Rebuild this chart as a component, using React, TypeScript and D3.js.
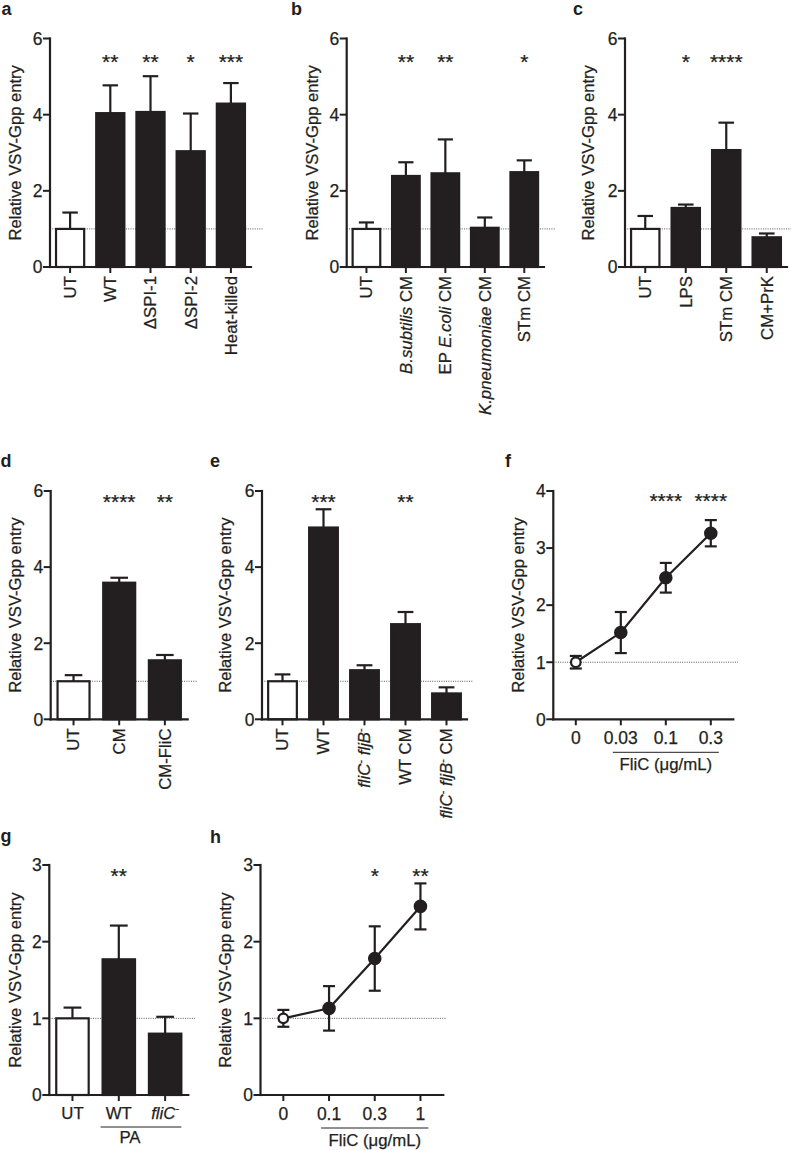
import React from 'react';
import * as d3 from 'd3';

const FONT = "'Liberation Sans', Arial, Helvetica, sans-serif";
const INK = '#231f20';
const Y_TITLE = 'Relative VSV-Gpp entry';

// ---------- data ----------
// panel a
const aCategories = ['UT', 'WT', 'ΔSPI-1', 'ΔSPI-2', 'Heat-killed'];
const aValues = [1.0, 4.04, 4.07, 3.04, 4.29];
const aErrors = [0.43, 0.73, 0.94, 0.99, 0.54];
const aStars = ['', '**', '**', '*', '***'];
// panel b
const bCategories = ['UT', '_B.subtilis_ CM', 'EP _E.coli_ CM', '_K.pneumoniae_ CM', 'STm CM'];
const bValues = [1.0, 2.39, 2.46, 1.03, 2.49];
const bErrors = [0.17, 0.36, 0.89, 0.27, 0.31];
const bStars = ['', '**', '**', '', '*'];
// panel c
const cCategories = ['UT', 'LPS', 'STm CM', 'CM+PrK'];
const cValues = [1.0, 1.55, 3.07, 0.78];
const cErrors = [0.34, 0.09, 0.72, 0.1];
const cStars = ['', '*', '****', ''];
// panel d
const dCategories = ['UT', 'CM', 'CM-FliC'];
const dValues = [1.0, 3.59, 1.55];
const dErrors = [0.16, 0.13, 0.14];
const dStars = ['', '****', '**'];
// panel e
const eCategories = ['UT', 'WT', '_fliC_^ _fljB_^', 'WT CM', '_fliC_^ _fljB_^ CM'];
const eValues = [1.0, 5.04, 1.29, 2.5, 0.68];
const eErrors = [0.18, 0.48, 0.13, 0.32, 0.16];
const eStars = ['', '***', '', '**', ''];
// panel f
const fDoses = ['0', '0.03', '0.1', '0.3'];
const fMeans = [1.0, 1.52, 2.48, 3.26];
const fErrors = [0.11, 0.36, 0.26, 0.23];
const fStars = ['', '', '****', '****'];
// panel g
const gCategories = ['UT', 'WT', '_fliC_^'];
const gValues = [1.0, 1.77, 0.8];
const gErrors = [0.14, 0.44, 0.22];
const gStars = ['', '**', ''];
// panel h
const hDoses = ['0', '0.1', '0.3', '1'];
const hMeans = [1.0, 1.13, 1.78, 2.46];
const hErrors = [0.11, 0.29, 0.42, 0.3];
const hStars = ['', '', '*', '**'];

const ticks6 = [0, 2, 4, 6];
const ticks4 = [0, 1, 2, 3, 4];
const ticks3 = [0, 1, 2, 3];

// ---------- label markup ----------
type Seg = { t: string; i?: boolean; sup?: boolean };
function parseLabel(s: string): Seg[] {
  const segs: Seg[] = [];
  let italic = false;
  let buf = '';
  for (const ch of s) {
    if (ch === '_') {
      if (buf) segs.push({ t: buf, i: italic });
      buf = '';
      italic = !italic;
    } else if (ch === '^') {
      if (buf) segs.push({ t: buf, i: italic });
      buf = '';
      segs.push({ t: '-', sup: true });
    } else buf += ch;
  }
  if (buf) segs.push({ t: buf, i: italic });
  return segs;
}

function Label({ text, fs }: { text: string; fs: number }) {
  const segs = parseLabel(text);
  let raised = false;
  return (
    <>
      {segs.map((s, k) => {
        let dy: number | undefined;
        if (s.sup) {
          dy = -fs * 0.4;
          raised = true;
          return (
            <tspan key={k} dy={dy} fontSize={fs * 0.65}>
              {s.t}
            </tspan>
          );
        }
        if (raised) {
          dy = fs * 0.4;
          raised = false;
        }
        return (
          <tspan key={k} dy={dy} fontStyle={s.i ? 'italic' : 'normal'}>
            {s.t}
          </tspan>
        );
      })}
    </>
  );
}

const TXT = { fill: INK, stroke: INK, strokeWidth: 0.25 };

// ---------- shared pieces ----------
type Frame = {
  x0: number; x1: number; yTop: number; yBot: number; max: number; ticks: number[];
  dotEnd: number; letter: string; lx: number; ly: number; titleX: number; starY: number;
};

function Axes({ f, y }: { f: Frame; y: d3.ScaleLinear<number, number> }) {
  return (
    <g>
      <text x={f.lx} y={f.ly} fontSize={18} fontWeight="bold" fill={INK}>{f.letter}</text>
      <text
        transform={`translate(${f.titleX},${(f.yTop + f.yBot) / 2}) rotate(-90)`}
        textAnchor="middle" dy="0.35em" fontSize={16.6} {...TXT}
      >{Y_TITLE}</text>
      <line x1={f.x0} x2={f.dotEnd} y1={y(1)} y2={y(1)} stroke="#444" strokeWidth={0.9} strokeDasharray="1,1.3" />
      {f.ticks.map((t) => (
        <g key={t}>
          <line x1={f.x0 - 7} x2={f.x0} y1={y(t)} y2={y(t)} stroke={INK} strokeWidth={2} />
          <text x={f.x0 - 7.5} y={y(t)} dy="0.36em" textAnchor="end" fontSize={17.5} {...TXT}>{t}</text>
        </g>
      ))}
    </g>
  );
}

function AxisLines({ f }: { f: Frame }) {
  return (
    <g stroke={INK} strokeWidth={2.2} strokeLinecap="square">
      <line x1={f.x0} x2={f.x0} y1={f.yTop} y2={f.yBot} />
      <line x1={f.x0} x2={f.x1} y1={f.yBot} y2={f.yBot} />
    </g>
  );
}

function Stars({ x, y, s }: { x: number; y: number; s: string }) {
  if (!s) return null;
  return <text x={x} y={y + 11.5} textAnchor="middle" fontSize={21} {...TXT}>{s}</text>;
}

// ---------- bar panel ----------
type BarProps = {
  f: Frame; cats: string[]; values: number[]; errors: number[]; stars: string[];
  horizontal?: boolean; group?: string;
};

function BarPanel({ f, cats, values, errors, stars, horizontal, group }: BarProps) {
  const x = d3.scaleBand<string>().domain(cats).range([f.x0, f.x1]).paddingInner(0.3).paddingOuter(0.15);
  const y = d3.scaleLinear().domain([0, f.max]).range([f.yBot, f.yTop]);
  const bw = x.bandwidth();
  const cap = bw * 0.55;
  const fs = 16.8;
  return (
    <g>
      <Axes f={f} y={y} />
      {cats.map((c, i) => {
        const cx = (x(c) as number) + bw / 2;
        const top = y(values[i] + errors[i]);
        return (
          <g key={c}>
            <line x1={cx} x2={cx} y1={y(values[i])} y2={top} stroke={INK} strokeWidth={2.2} />
            <line x1={cx - cap / 2} x2={cx + cap / 2} y1={top} y2={top} stroke={INK} strokeWidth={2.2} />
            <rect
              x={x(c)} y={y(values[i])} width={bw} height={f.yBot - y(values[i])}
              fill={i === 0 ? '#fff' : INK} stroke={INK} strokeWidth={2.2}
            />
            <line x1={cx} x2={cx} y1={f.yBot} y2={f.yBot + 6} stroke={INK} strokeWidth={2} />
            <Stars x={cx} y={y(f.starY)} s={stars[i]} />
            {horizontal ? (
              <text x={cx} y={f.yBot + 24} textAnchor="middle" fontSize={fs} {...TXT}>
                <Label text={c} fs={fs} />
              </text>
            ) : (
              <text
                transform={`translate(${cx},${f.yBot + 9}) rotate(-90)`}
                textAnchor="end" dy="0.35em" fontSize={fs} {...TXT}
              >
                <Label text={c} fs={fs} />
              </text>
            )}
          </g>
        );
      })}
      <AxisLines f={f} />
      {group && (
        <g>
          <line
            x1={(x(cats[1]) as number) - 2} x2={(x(cats[cats.length - 1]) as number) + bw}
            y1={f.yBot + 32} y2={f.yBot + 32} stroke={INK} strokeWidth={1}
          />
          <text
            x={((x(cats[1]) as number) + (x(cats[cats.length - 1]) as number) + bw) / 2 - 12}
            y={f.yBot + 48} textAnchor="middle" fontSize={fs} {...TXT}
          >{group}</text>
        </g>
      )}
    </g>
  );
}

// ---------- dose-response panel ----------
type LineProps = {
  f: Frame; doses: string[]; means: number[]; errors: number[]; stars: string[]; title: string;
};

function LinePanel({ f, doses, means, errors, stars, title }: LineProps) {
  const x = d3.scalePoint<string>().domain(doses).range([f.x0, f.x1]).padding(0.5);
  const y = d3.scaleLinear().domain([0, f.max]).range([f.yBot, f.yTop]);
  const line = d3.line<number>().x((_, i) => x(doses[i]) as number).y((d) => y(d));
  const cap = 12;
  const ux0 = (x(doses[1]) as number) - 8;
  const ux1 = (x(doses[doses.length - 1]) as number) + 8;
  return (
    <g>
      <Axes f={f} y={y} />
      <path d={line(means) || ''} fill="none" stroke={INK} strokeWidth={2.2} />
      {doses.map((d, i) => {
        const cx = x(d) as number;
        const lo = y(means[i] - errors[i]);
        const hi = y(means[i] + errors[i]);
        return (
          <g key={d}>
            <line x1={cx} x2={cx} y1={lo} y2={hi} stroke={INK} strokeWidth={2.2} />
            <line x1={cx - cap / 2} x2={cx + cap / 2} y1={lo} y2={lo} stroke={INK} strokeWidth={2.2} />
            <line x1={cx - cap / 2} x2={cx + cap / 2} y1={hi} y2={hi} stroke={INK} strokeWidth={2.2} />
            <circle cx={cx} cy={y(means[i])} r={i === 0 ? 4.8 : 5.7} fill={i === 0 ? '#fff' : INK} stroke={INK} strokeWidth={2.2} />
            <line x1={cx} x2={cx} y1={f.yBot} y2={f.yBot + 6} stroke={INK} strokeWidth={2} />
            <text x={cx} y={f.yBot + 25} textAnchor="middle" fontSize={17.5} {...TXT}>{d}</text>
            <Stars x={cx} y={y(f.starY)} s={stars[i]} />
          </g>
        );
      })}
      <AxisLines f={f} />
      <line x1={ux0} x2={ux1} y1={f.yBot + 33} y2={f.yBot + 33} stroke={INK} strokeWidth={1} />
      <text x={(ux0 + ux1) / 2} y={f.yBot + 51} textAnchor="middle" fontSize={16.8} {...TXT}>{title}</text>
    </g>
  );
}

// ---------- frames ----------
const rowA = { yTop: 38.5, yBot: 267, max: 6, ticks: ticks6, starY: 5.5 };
const rowD = { yTop: 491, yBot: 719.3, max: 6, ticks: ticks6, starY: 5.82 };
const rowG = { yTop: 865, yBot: 1095, max: 3, ticks: ticks3, starY: 2.91 };

const frameA: Frame = { ...rowA, x0: 50, x1: 251, dotEnd: 263, letter: 'a', lx: 1.5, ly: 15, titleX: 15 };
const frameB: Frame = { ...rowA, x0: 346.7, x1: 544, dotEnd: 555, letter: 'b', lx: 291, ly: 15, titleX: 311.7 };
const frameC: Frame = { ...rowA, x0: 625, x1: 787, dotEnd: 791, letter: 'c', lx: 573, ly: 15, titleX: 588.3 };
const frameD: Frame = { ...rowD, x0: 50.7, x1: 187.7, dotEnd: 197, letter: 'd', lx: 0.5, ly: 467, titleX: 15 };
const frameE: Frame = { ...rowD, x0: 262, x1: 467, dotEnd: 472.7, letter: 'e', lx: 210, ly: 467, titleX: 225 };
const frameF: Frame = { ...rowD, max: 4, ticks: ticks4, starY: 3.91, x0: 553.3, x1: 733.3, dotEnd: 738, letter: 'f', lx: 505, ly: 467, titleX: 518 };
const frameG: Frame = { ...rowG, x0: 49.3, x1: 188.3, dotEnd: 195, letter: 'g', lx: 0.5, ly: 842, titleX: 15 };
const frameH: Frame = { ...rowG, x0: 260.5, x1: 443.3, dotEnd: 445.7, letter: 'h', lx: 210, ly: 843, titleX: 225 };

export default function App() {
  return (
    <svg
      width={791} height={1150} viewBox="0 0 791 1150"
      style={{ position: 'absolute', left: 0, top: 0, background: '#fff' }}
      fontFamily={FONT}
    >
      <rect width={791} height={1150} fill="#fff" />
      <BarPanel f={frameA} cats={aCategories} values={aValues} errors={aErrors} stars={aStars} />
      <BarPanel f={frameB} cats={bCategories} values={bValues} errors={bErrors} stars={bStars} />
      <BarPanel f={frameC} cats={cCategories} values={cValues} errors={cErrors} stars={cStars} />
      <BarPanel f={frameD} cats={dCategories} values={dValues} errors={dErrors} stars={dStars} />
      <BarPanel f={frameE} cats={eCategories} values={eValues} errors={eErrors} stars={eStars} />
      <LinePanel f={frameF} doses={fDoses} means={fMeans} errors={fErrors} stars={fStars} title="FliC (μg/mL)" />
      <BarPanel f={frameG} cats={gCategories} values={gValues} errors={gErrors} stars={gStars} horizontal group="PA" />
      <LinePanel f={frameH} doses={hDoses} means={hMeans} errors={hErrors} stars={hStars} title="FliC (μg/mL)" />
    </svg>
  );
}
